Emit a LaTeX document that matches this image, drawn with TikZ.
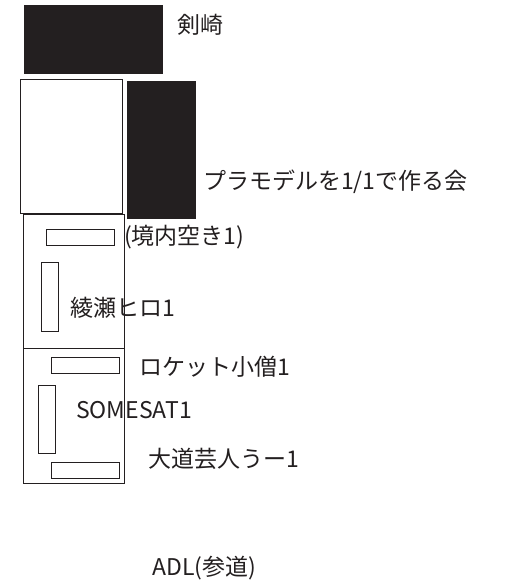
\documentclass[tikz,border=0pt]{standalone}
\usepackage{fontspec}
\setmainfont{Noto Sans CJK JP}
\usetikzlibrary{positioning}
\definecolor{inkblack}{HTML}{231F20}
\tikzset{
  booth/.style={rectangle, draw=inkblack, line width=0.9pt, inner sep=0pt, anchor=north west},
  darkbooth/.style={booth, fill=inkblack},
  desk/.style={booth, line width=0.8pt},
  circle name/.style={anchor=west, inner sep=0pt, text=inkblack, font=\fontsize{23}{26}\selectfont}
}
\newcommand\boxat[6][booth]{\node[#1, minimum width=#5pt, minimum height=#6pt] (#2) at (#3,#4) {};}

\begin{document}
\begin{tikzpicture}[x=1pt,y=-1pt]
\useasboundingbox (0,0) rectangle (505,587);

% big blocks
\boxat[darkbooth]{kenzaki}{24}{5}{138}{68}
\boxat{blank}{20}{79}{102}{134}
\boxat[darkbooth]{plamo}{127}{81}{68}{137}
\boxat{upper}{23}{214}{101}{134}
\boxat{lower}{23}{348}{101}{135}

% desks
\boxat[desk]{up-h}{46}{229}{68}{16}
\boxat[desk]{up-v}{41}{262}{17}{69}
\boxat[desk]{lo-h1}{51}{357}{68}{16}
\boxat[desk]{lo-v}{38}{385}{17}{68}
\boxat[desk]{lo-h2}{51}{462}{68}{16}

\node[circle name] (kenzaki-lbl) at (177,25) {剣崎};
\node[circle name] (plamo-lbl) at (203,182) {プラモデルを1/1で作る会};
\node[circle name] (keidai-lbl) at (124,237) {(境内空き1)};
\node[circle name] (ayase-lbl) at (70,308) {綾瀬ヒロ1};
\node[circle name] (rocket-lbl) at (139,367) {ロケット小僧1};
\node[circle name] (somesat-lbl) at (76,410) {SOMESAT1};
\node[circle name] (daidou-lbl) at (148,459) {大道芸人うー1};
\node[circle name] (adl-lbl) at (152,568) {ADL(参道)};

\end{tikzpicture}
\end{document}
